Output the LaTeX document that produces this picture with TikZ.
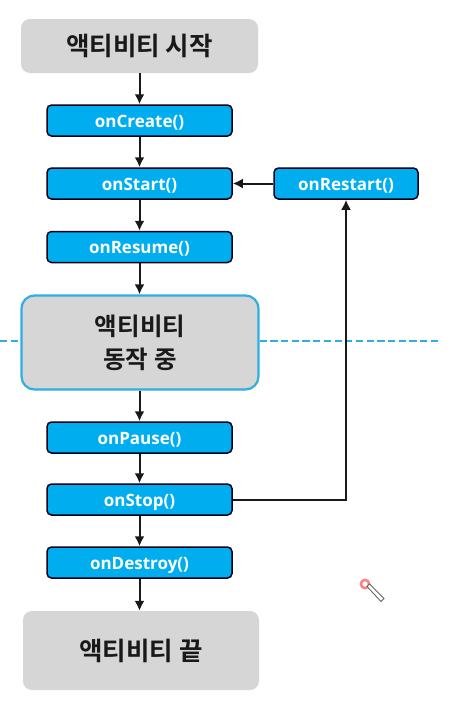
\documentclass[tikz,border=0pt]{standalone}
\usepackage{fontspec}
\setmainfont{Open Sans}
\newfontfamily\krfont{Noto Sans CJK KR}[BoldFont={Noto Sans CJK KR Bold}]
\usetikzlibrary{arrows.meta,positioning,calc}
\definecolor{boxblue}{HTML}{00AEEF}
\definecolor{boxgray}{HTML}{D6D6D6}
\definecolor{lineblue}{HTML}{2FAEE0}
\tikzset{
  x=1pt,y=-1pt,
  grayBox/.style={rounded corners=9pt,fill=boxgray,draw=none,align=center,inner sep=0pt,
     font=\krfont\bfseries\fontsize{25.5}{34}\selectfont,text=black!90},
  method/.style={rounded corners=4.5pt,fill=boxblue,draw=black!90!blue,line width=1.5pt,inner sep=0pt,
     font=\bfseries\fontsize{17}{18}\selectfont,text=white,minimum width=185pt,minimum height=31pt,
     text height=16pt,text depth=2.6pt},
  flow/.style={draw=black!90,line width=2pt,-{Latex[length=10pt,width=10pt]}},
  dashline/.style={draw=lineblue,line width=1.8pt,dash pattern=on 7.2pt off 3.5pt},
}
\begin{document}
\begin{tikzpicture}
\useasboundingbox (0,0) rectangle (452,705);
\fill[white] (0,0) rectangle (452,705);
\coordinate (dl) at (0,341);
\coordinate (dr) at (438,341);
\node[grayBox,minimum width=237pt,minimum height=54pt] (start) at (139.5,46) {액티비티 시작};
\node[method] (create) at (139.5,120.5) {onCreate()};
\node[method] (onstart) at (139.5,183.5) {onStart()};
\node[method,minimum width=144pt] (restart) at (346,183.5) {onRestart()};
\node[method] (resume) at (139.5,247) {onResume()};
\node[grayBox,draw=lineblue,line width=2.2pt,rounded corners=13pt,minimum width=237pt,minimum height=94pt,font=\krfont\bfseries\fontsize{24.5}{33}\selectfont] (running) at (140,342.5) {액티비티\\동작 중};
\node[method] (pause) at (139.5,437.5) {onPause()};
\node[method] (stop) at (139.5,499.5) {onStop()};
\node[method] (destroy) at (139.5,562.5) {onDestroy()};
\node[grayBox,minimum width=236pt,minimum height=79pt] (end) at (141,650.5) {액티비티 끝};
\draw[dashline] (dl) -- (dl -| running.west);
\draw[dashline] (dr -| running.east) -- (dr);
\draw[flow] (start.south -| create.north) -- (create.north);
\draw[flow] (create) -- (onstart);
\draw[flow] (onstart) -- (resume);
\draw[flow] (resume) -- (resume |- running.north);
\draw[flow] (resume |- running.south) -- (pause);
\draw[flow] (pause) -- (stop);
\draw[flow] (stop) -- (destroy);
\draw[flow] (destroy) -- (destroy |- end.north);
\draw[flow] (restart) -- (onstart);
\draw[flow] (stop.east) -| (restart.south);
% cursor
\fill[red!70!white,opacity=.7] (365,584) circle (5.5);
\fill[white] (365,584) circle (2.6);
\draw[black!60,line width=.9pt,fill=white] (367,586.5) -- (369.5,584) -- (384,598.5) -- (381,601.5) -- cycle;
\end{tikzpicture}
\end{document}
